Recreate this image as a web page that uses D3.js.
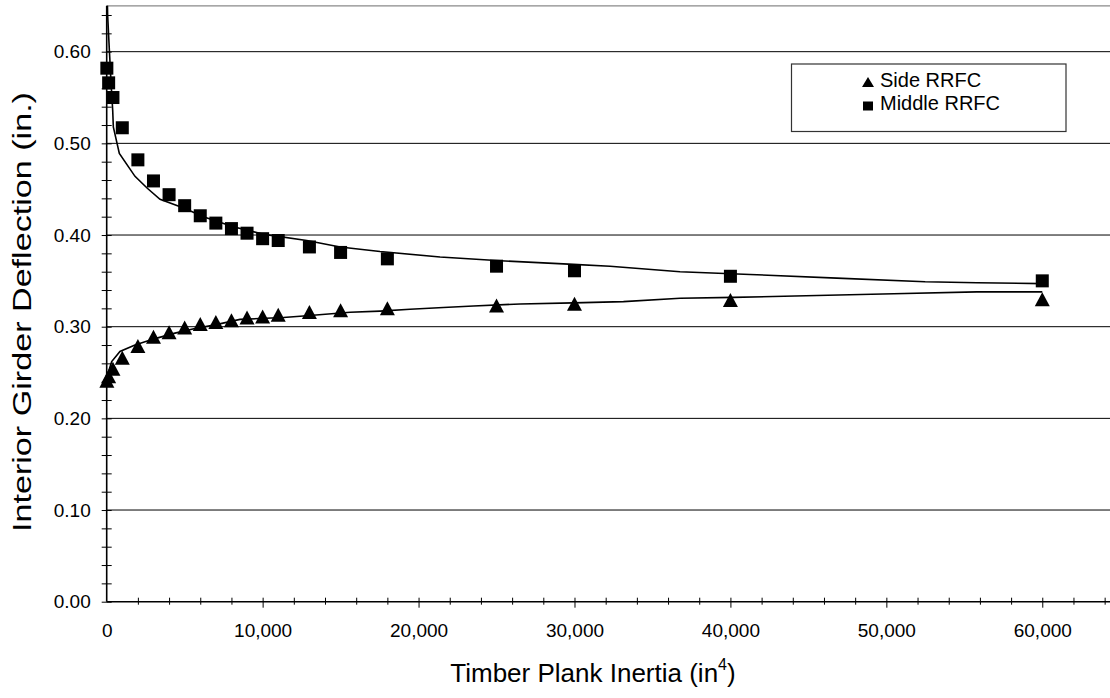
<!DOCTYPE html>
<html>
<head>
<meta charset="utf-8">
<script src="https://cdn.jsdelivr.net/npm/d3@7"></script>
<style>
  html, body { margin: 0; padding: 0; background: #fff; }
  svg { display: block; font-family: "Liberation Sans", Arial, sans-serif; }
</style>
</head>
<body>
<svg id="chart" width="1110" height="698"></svg>
<script>
// ---- data ----
const inertia = [10, 125, 400, 1000, 2000, 3000, 4000, 5000, 6000, 7000, 8000, 9000, 10000, 11000, 13000, 15000, 18000, 25000, 30000, 40000, 60000];
const sideRRFC = [0.241, 0.246, 0.254, 0.266, 0.279, 0.289, 0.294, 0.299, 0.303, 0.305, 0.307, 0.310, 0.311, 0.313, 0.316, 0.318, 0.320, 0.323, 0.325, 0.329, 0.330];
const middleRRFC = [0.582, 0.566, 0.550, 0.517, 0.482, 0.459, 0.444, 0.432, 0.421, 0.413, 0.407, 0.402, 0.396, 0.394, 0.387, 0.381, 0.374, 0.366, 0.361, 0.355, 0.350];

// trendlines as drawn in the picture
const middleTrendX = [10, 60, 170, 280, 385, 425, 810, 1815, 2605, 3420, 5020, 6200, 8120, 10000, 12830, 14970, 17530, 21380, 25230, 29930, 32280, 36770, 41260, 46820, 52490, 55800, 60000];
const middleTrendY = [0.68, 0.64, 0.602, 0.566, 0.536, 0.518, 0.489, 0.464, 0.451, 0.439, 0.429, 0.420, 0.409, 0.401, 0.394, 0.387, 0.382, 0.376, 0.372, 0.368, 0.366, 0.360, 0.357, 0.353, 0.349, 0.348, 0.347];
const sideTrendX = [10, 100, 320, 850, 1815, 3100, 4380, 5660, 6950, 8550, 11330, 12830, 15610, 17530, 19450, 21590, 23520, 26510, 29930, 33140, 36770, 40190, 45550, 50470, 55800, 60000];
const sideTrendY = [0.238, 0.250, 0.262, 0.273, 0.280, 0.287, 0.293, 0.298, 0.302, 0.308, 0.310, 0.312, 0.3157, 0.317, 0.319, 0.321, 0.3226, 0.3248, 0.326, 0.3273, 0.331, 0.332, 0.334, 0.336, 0.338, 0.338];

const yMajorTicks = [0, 0.1, 0.2, 0.3, 0.4, 0.5, 0.6];
const xMajorTicks = [0, 10000, 20000, 30000, 40000, 50000, 60000];
const seriesNames = ["Side RRFC", "Middle RRFC"];

// ---- layout ----
const svg = d3.select("#chart");
const x = d3.scaleLinear().domain([0, 65000]).range([106.7, 106.7 + 65000 * 0.015593]);
const y = d3.scaleLinear().domain([0, 0.65]).range([601.7, 601.7 - 0.65 * 916.7]);
const x0 = x(0), yb = y(0), yt = y(0.65);
const rightEdge = 1110;

const yMinor = d3.range(0, 0.6401, 0.02).map(v => +v.toFixed(2));
const xMinor = d3.range(2000, 64001, 2000);

// plot area top border
svg.append("line").attr("x1", x0).attr("x2", rightEdge).attr("y1", yt).attr("y2", yt)
  .attr("stroke", "#8a8a8a").attr("stroke-width", 1.2);

// gridlines
svg.append("g").selectAll("line").data(yMajorTicks.filter(d => d > 0)).join("line")
  .attr("x1", x0).attr("x2", rightEdge)
  .attr("y1", d => y(d)).attr("y2", d => y(d))
  .attr("stroke", "#000").attr("stroke-width", 1);

// clip for trendlines
svg.append("clipPath").attr("id", "plotclip").append("rect")
  .attr("x", x0).attr("y", yt).attr("width", rightEdge - x0).attr("height", yb - yt);

const line = d3.line().x(d => x(d[0])).y(d => y(d[1]));
svg.append("path").datum(d3.zip(middleTrendX, middleTrendY))
  .attr("clip-path", "url(#plotclip)")
  .attr("d", line).attr("fill", "none").attr("stroke", "#000").attr("stroke-width", 1.6);
svg.append("path").datum(d3.zip(sideTrendX, sideTrendY))
  .attr("clip-path", "url(#plotclip)")
  .attr("d", line).attr("fill", "none").attr("stroke", "#000").attr("stroke-width", 1.6);

// y axis (minor crossing ticks)
const yMinorAxis = svg.append("g").attr("transform", `translate(${x0},0)`)
  .call(d3.axisLeft(y).tickValues(yMinor).tickSize(5).tickFormat(""));
yMinorAxis.select(".domain").remove();
yMinorAxis.selectAll(".tick line").attr("x2", -5).attr("x1", 5).attr("stroke", "#000");

const yAxis = svg.append("g").attr("transform", `translate(${x0},0)`)
  .call(d3.axisLeft(y).tickValues(yMajorTicks).tickSize(0).tickPadding(16).tickFormat(d3.format(".2f")));
yAxis.select(".domain").remove();
yAxis.selectAll("text").attr("font-size", 19).attr("fill", "#000")
  .attr("font-family", "Liberation Sans, Arial, sans-serif");

// x axis
const xMinorAxis = svg.append("g").attr("transform", `translate(0,${yb})`)
  .call(d3.axisBottom(x).tickValues(xMinor).tickSize(4).tickFormat(""));
xMinorAxis.select(".domain").remove();
xMinorAxis.selectAll(".tick line")
  .attr("y1", -4).attr("y2", d => d % 10000 === 0 ? 6 : 3).attr("stroke", "#000");

const xAxis = svg.append("g").attr("transform", `translate(0,${yb})`)
  .call(d3.axisBottom(x).tickValues(xMajorTicks).tickSize(0).tickPadding(22).tickFormat(d3.format(",")));
xAxis.select(".domain").remove();
xAxis.selectAll("text").attr("font-size", 19).attr("fill", "#000")
  .attr("font-family", "Liberation Sans, Arial, sans-serif");

// axis lines
svg.append("line").attr("x1", x0).attr("x2", x0).attr("y1", yt).attr("y2", yb)
  .attr("stroke", "#000").attr("stroke-width", 1.6);
svg.append("line").attr("x1", x0).attr("x2", rightEdge).attr("y1", yb).attr("y2", yb)
  .attr("stroke", "#000").attr("stroke-width", 1.6);

// markers
const triPath = (w, h) => `M0,${-h / 2}L${w / 2},${h / 2}L${-w / 2},${h / 2}Z`;
svg.append("g").selectAll("rect").data(d3.zip(inertia, middleRRFC)).join("rect")
  .attr("x", d => x(d[0]) - 6.5).attr("y", d => y(d[1]) - 6.5)
  .attr("width", 13).attr("height", 13).attr("fill", "#000");
svg.append("g").selectAll("path").data(d3.zip(inertia, sideRRFC)).join("path")
  .attr("transform", d => `translate(${x(d[0])},${y(d[1])})`)
  .attr("d", triPath(15, 14)).attr("fill", "#000");

// axis titles
svg.append("text")
  .attr("transform", `translate(31,312) rotate(-90)`)
  .attr("text-anchor", "middle").attr("font-size", 26).attr("fill", "#000")
  .attr("textLength", 440).attr("lengthAdjust", "spacingAndGlyphs")
  .text("Interior Girder Deflection (in.)");

const xt = svg.append("text").attr("x", 593).attr("y", 682)
  .attr("text-anchor", "middle").attr("font-size", 26).attr("fill", "#000");
xt.append("tspan").text("Timber Plank Inertia (in");
xt.append("tspan").attr("font-size", 16).attr("dy", -12).text("4");
xt.append("tspan").attr("dy", 12).text(")");

// legend
const lg = svg.append("g");
lg.append("rect").attr("x", 791.5).attr("y", 64).attr("width", 274.5).attr("height", 67.5)
  .attr("fill", "#fff").attr("stroke", "#333").attr("stroke-width", 1.2);
lg.append("path").attr("transform", "translate(868,82)").attr("d", triPath(12, 10)).attr("fill", "#000");
lg.append("rect").attr("x", 863).attr("y", 101.5).attr("width", 10).attr("height", 9).attr("fill", "#000");
lg.selectAll("text.lt").data(seriesNames).join("text").attr("class", "lt")
  .attr("x", 880).attr("y", (d, i) => 87 + i * 23)
  .attr("font-size", 20).attr("fill", "#000").text(d => d);
</script>
</body>
</html>
